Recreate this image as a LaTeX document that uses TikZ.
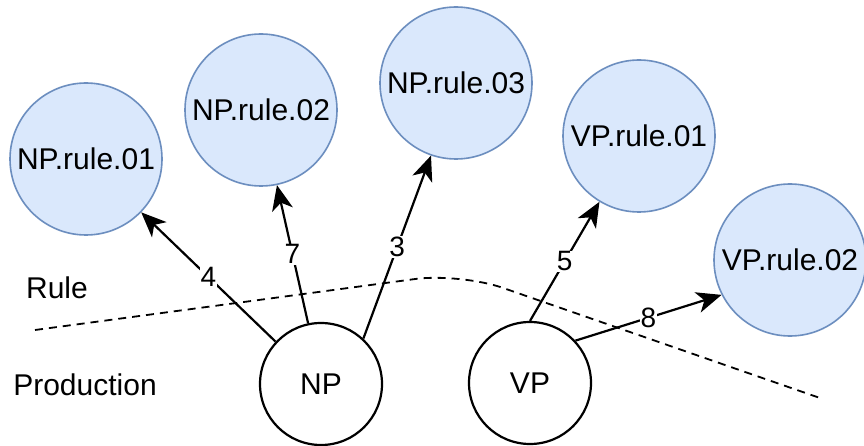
\documentclass[tikz,border=0pt]{standalone}
\usepackage{fontspec}
\setmainfont{Liberation Sans}
\usetikzlibrary{arrows.meta}
\definecolor{rulefill}{HTML}{DAE8FC}
\definecolor{ruledraw}{HTML}{6C8EBF}
\begin{document}
\begin{tikzpicture}[x=1pt,y=-1pt,
  rulenode/.style={circle,draw=ruledraw,fill=rulefill,line width=1.6pt,minimum size=152pt,inner sep=0pt,font=\fontsize{30}{35}\selectfont},
  prodnode/.style={circle,draw=black,fill=white,line width=2.2pt,minimum size=122pt,inner sep=0pt,font=\fontsize{30}{35}\selectfont},
  plain/.style={inner sep=0pt,font=\fontsize{30}{35}\selectfont},
  conn/.style={line width=2.2pt,-{Stealth[length=25pt,width=21pt,inset=7pt]}},
  wlabel/.style={fill=white,inner sep=1pt,font=\fontsize{28}{32}\selectfont},
  sep/.style={dash pattern=on 8pt off 6pt,line width=1.8pt}
]
\path[use as bounding box] (0,0) rectangle (864,446);

\node[rulenode] (r1) at (86,159) {NP.rule.01};
\node[rulenode] (r2) at (261,110) {NP.rule.02};
\node[rulenode] (r3) at (456,83) {NP.rule.03};
\node[rulenode] (v1) at (639,136) {VP.rule.01};
\node[rulenode] (v2) at (790,260) {VP.rule.02};

\draw[sep,rounded corners=45pt] (35,330) -- (460,273) -- (820,398);

\node[prodnode] (np) at (321,384) {NP};
\node[prodnode] (vp) at (530,383) {VP};

\node[plain] (lrule) at (57,288) {Rule};
\node[plain] (lprod) at (85,385) {Production};

\draw[conn] (np.137.6) -- node[wlabel] {4} (r1.316);
\draw[conn] (np.102.9) -- node[wlabel] {7} (r2.282.6);
\draw[conn] (np.47.6) -- node[wlabel] {3} (r3.251);
\draw[conn] (vp.90) -- node[wlabel] {5} (v1.239.8);
\draw[conn] (vp.43.7) -- node[wlabel] {8} (v2.207.8);
\end{tikzpicture}
\end{document}
